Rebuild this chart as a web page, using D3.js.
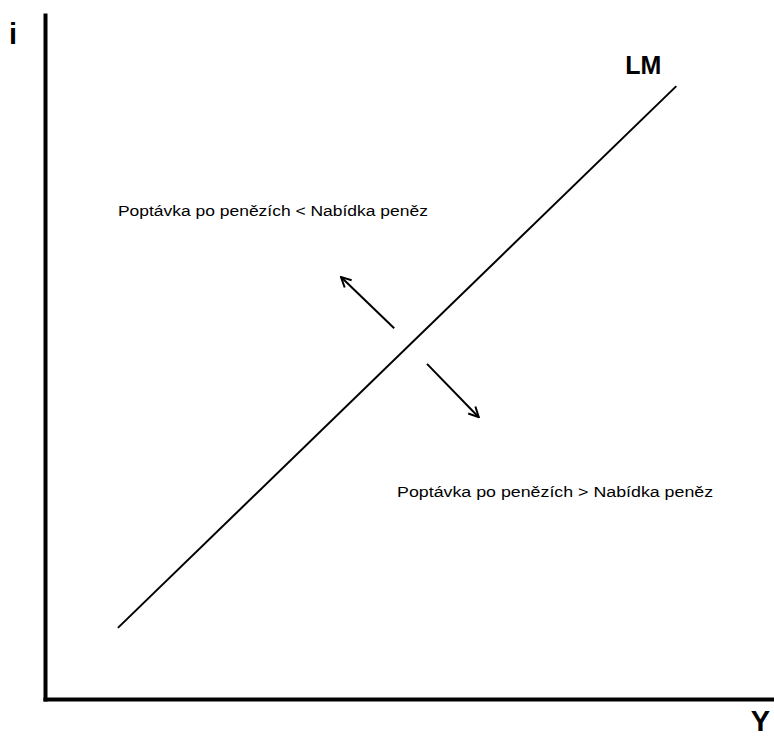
<!DOCTYPE html>
<html>
<head>
<meta charset="utf-8">
<script src="https://cdn.jsdelivr.net/npm/d3@7"></script>
<style>
  html, body { margin: 0; padding: 0; background: #fff; }
  text { font-family: Arial, "Liberation Sans", sans-serif; fill: #000; }
</style>
</head>
<body>
<div id="chart"></div>
<script>
// LM curve endpoints (Y, i) in abstract units 0..100
const lmY = [10.0, 86.6];
const lmI = [10.4, 89.6];

// arrows: start and end points (Y, i)
const arrowStarts = [[47.9, 54.2], [52.4, 49.0]];
const arrowEnds = [[40.6, 61.7], [59.5, 41.2]];

// region labels
const regionText = ["Poptávka po penězích < Nabídka peněz", "Poptávka po penězích > Nabídka peněz"];
const regionPos = [[10.0, 70.6], [48.3, 29.5]];
const regionWidth = [310, 316];

const curveLabel = "LM";
const curveLabelPos = [79.6, 91.4];
const axisLabels = ["i", "Y"];

const width = 774, height = 736;
const margin = {top: 15, right: 0, bottom: 37, left: 45};

const svg = d3.select("#chart").append("svg")
  .attr("width", width)
  .attr("height", height);

const x = d3.scaleLinear().domain([0, 100]).range([margin.left, width - margin.right]);
const y = d3.scaleLinear().domain([0, 100]).range([height - margin.bottom, margin.top]);

// axes, no ticks
svg.append("g")
  .attr("transform", `translate(${margin.left},0)`)
  .call(d3.axisLeft(y).ticks(0).tickSizeOuter(0))
  .select(".domain").attr("stroke", "#000").attr("stroke-width", 4).attr("stroke-linecap", "square");
svg.append("g")
  .attr("transform", `translate(0,${height - margin.bottom})`)
  .call(d3.axisBottom(x).ticks(0).tickSizeOuter(0))
  .select(".domain").attr("stroke", "#000").attr("stroke-width", 4).attr("stroke-linecap", "square");

// axis labels
svg.append("text")
  .attr("x", 9).attr("y", 44)
  .attr("font-size", 29).attr("font-weight", "bold")
  .text(axisLabels[0]);
svg.append("text")
  .attr("x", width - 4).attr("y", 731)
  .attr("text-anchor", "end")
  .attr("font-size", 29).attr("font-weight", "bold")
  .text(axisLabels[1]);

// LM line
svg.append("path")
  .datum(d3.zip(lmY, lmI))
  .attr("fill", "none")
  .attr("stroke", "#000")
  .attr("stroke-width", 2)
  .attr("d", d3.line().x(d => x(d[0])).y(d => y(d[1])));

svg.append("text")
  .attr("x", x(curveLabelPos[0])).attr("y", y(curveLabelPos[1]))
  .attr("font-size", 25).attr("font-weight", "bold")
  .text(curveLabel);

// arrow heads
svg.append("defs").append("marker")
  .attr("id", "head")
  .attr("viewBox", "0 0 12 12")
  .attr("refX", 11).attr("refY", 6)
  .attr("markerWidth", 12).attr("markerHeight", 12)
  .attr("markerUnits", "userSpaceOnUse")
  .attr("orient", "auto")
  .append("path")
  .attr("d", "M1,1 L11,6 L1,11")
  .attr("fill", "none")
  .attr("stroke", "#000")
  .attr("stroke-width", 2);

svg.selectAll(".arrow")
  .data(d3.zip(arrowStarts, arrowEnds))
  .join("line")
  .attr("class", "arrow")
  .attr("x1", d => x(d[0][0])).attr("y1", d => y(d[0][1]))
  .attr("x2", d => x(d[1][0])).attr("y2", d => y(d[1][1]))
  .attr("stroke", "#000")
  .attr("stroke-width", 2)
  .attr("marker-end", "url(#head)");

// region texts
svg.selectAll(".region")
  .data(regionText)
  .join("text")
  .attr("class", "region")
  .attr("x", (d, i) => x(regionPos[i][0]))
  .attr("y", (d, i) => y(regionPos[i][1]))
  .attr("font-size", 15.5)
  .attr("textLength", (d, i) => regionWidth[i])
  .attr("lengthAdjust", "spacingAndGlyphs")
  .text(d => d);
</script>
</body>
</html>
